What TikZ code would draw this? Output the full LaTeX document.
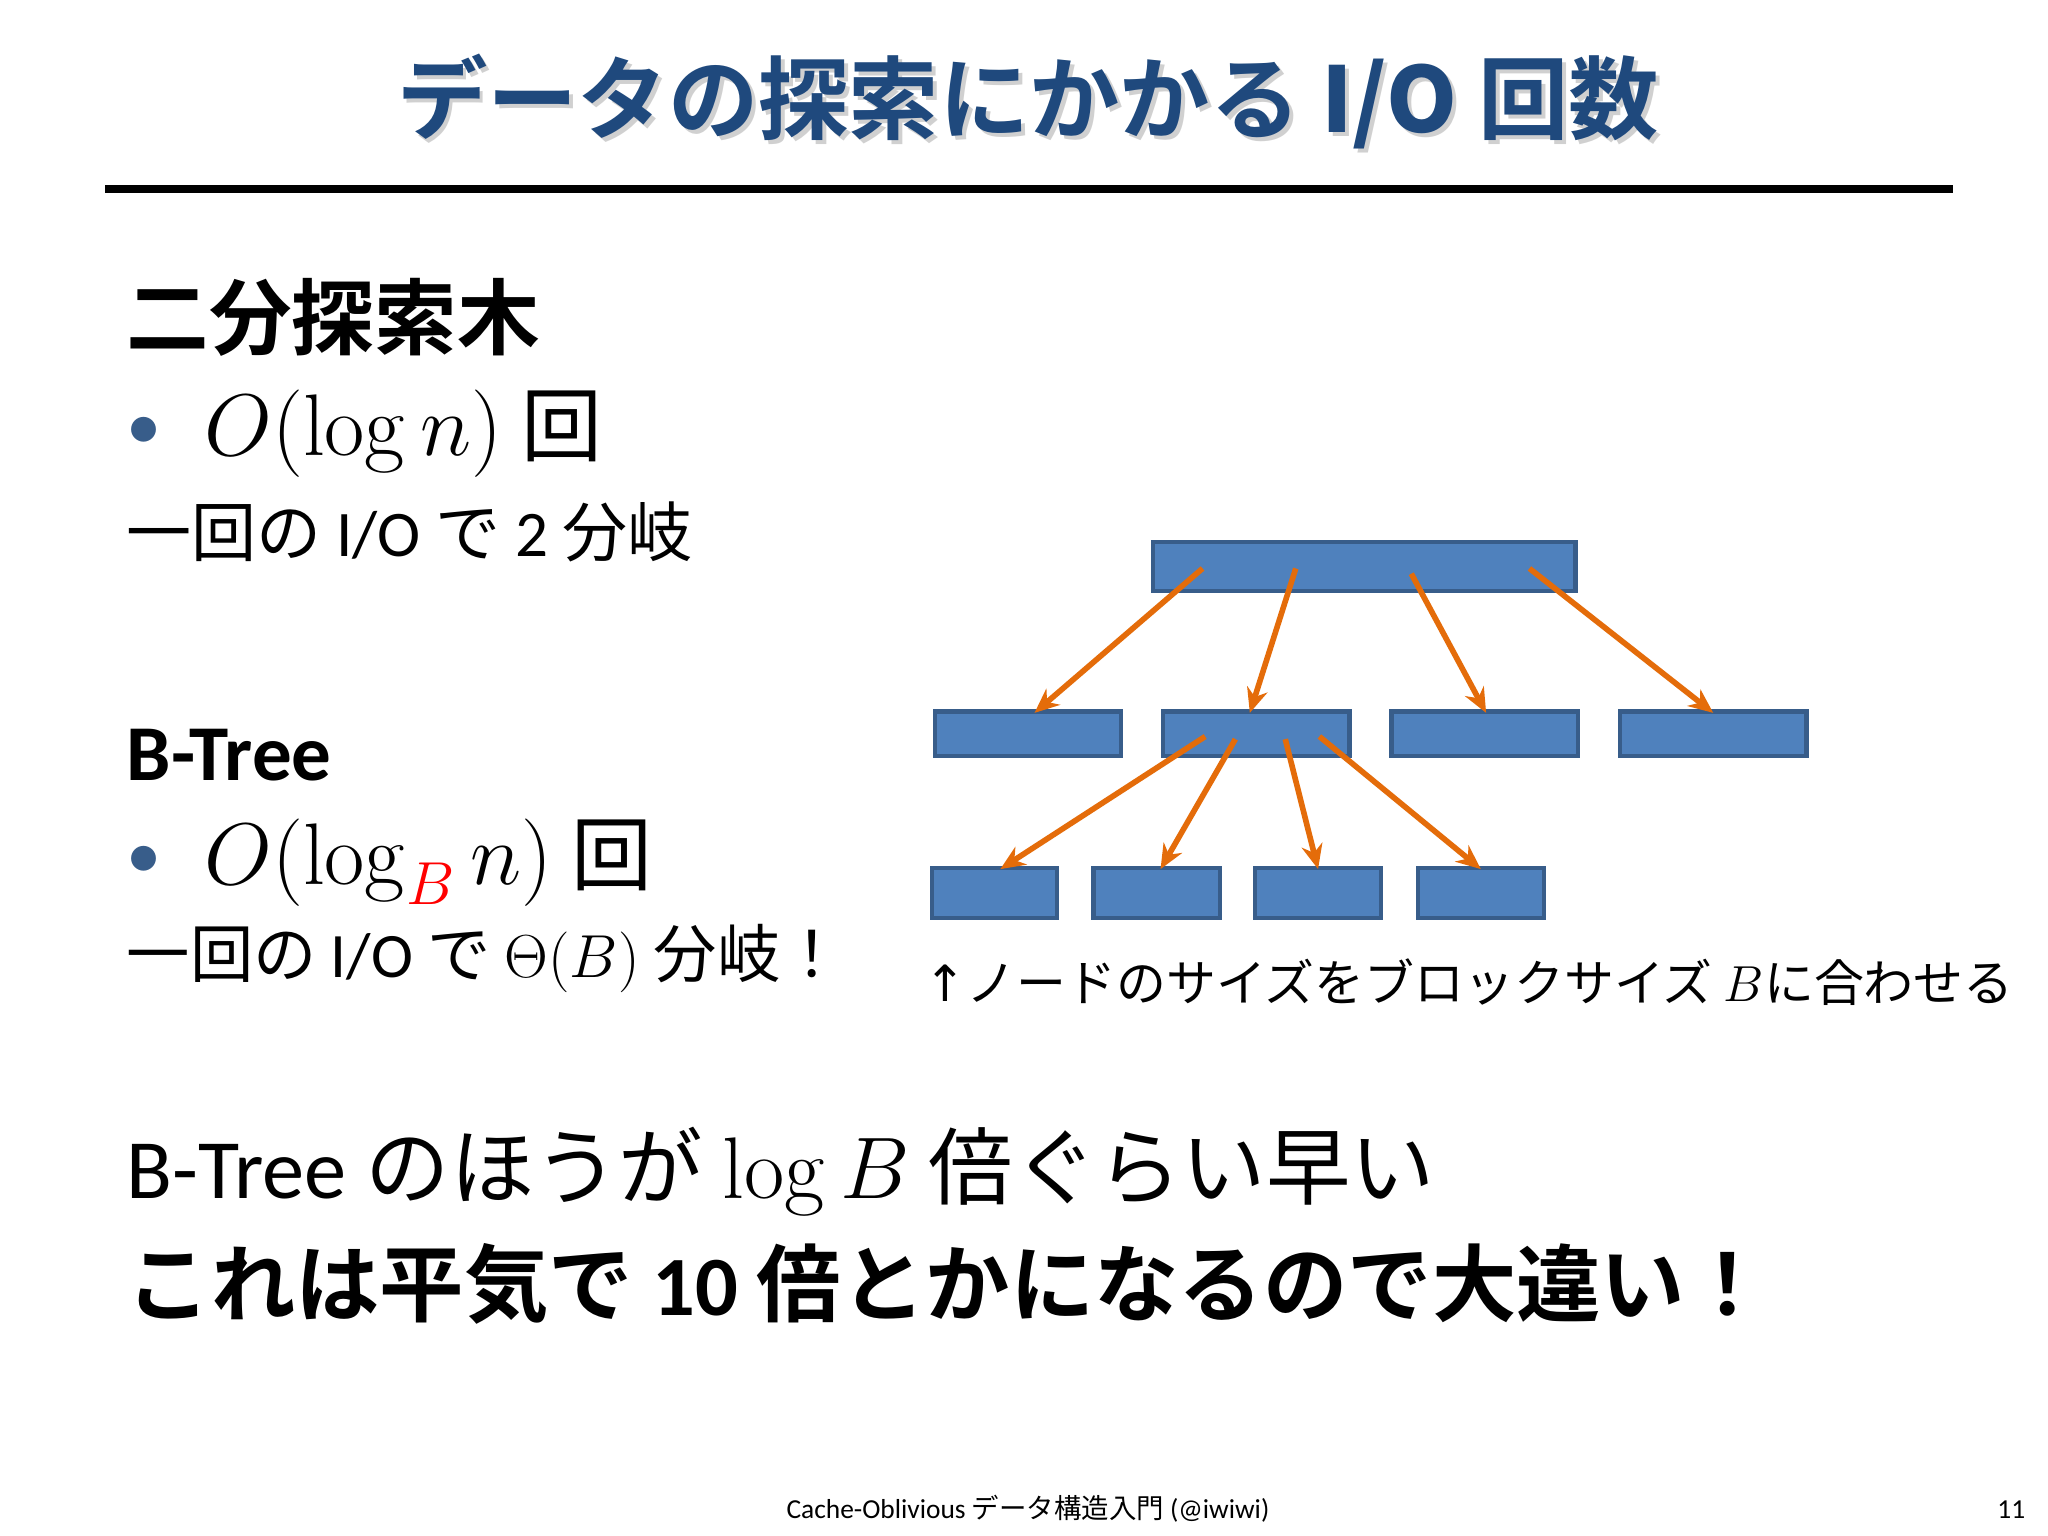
\documentclass[tikz,border=0pt]{standalone}
\usepackage[no-math]{fontspec}
\setmainfont{Carlito}
\newfontfamily\jp{Noto Sans CJK JP}
\newfontfamily\jpb{Noto Sans CJK JP Bold}
\newfontfamily\arr{DejaVu Sans}
\usetikzlibrary{arrows.meta}
\definecolor{bfill}{HTML}{4F81BD}
\definecolor{bdraw}{HTML}{385D8A}
\definecolor{ora}{HTML}{E46C0A}
\definecolor{ttl}{HTML}{1F497D}
\begin{document}
\begin{tikzpicture}[x=0.013128cm,y=-0.013128cm,
  blk/.style={draw=bdraw,fill=bfill,line width=1.2pt},
  ar/.style={draw=ora,line width=1.6pt,-{Stealth[length=7pt,width=6pt]}},
  txt/.style={anchor=west,inner sep=0pt}]
\useasboundingbox (0,0) rectangle (1560,1170);
\fill[white] (0,0) rectangle (1560,1170);
% title
\node[txt,anchor=center,text=gray!60,opacity=0.6] at (786,80) {\jpb\fontsize{25.7}{30}\selectfont データの探索にかかる \textbf{I/O} 回数};
\node[txt,anchor=center,text=ttl] (title) at (783,77) {\jpb\fontsize{25.7}{30}\selectfont データの探索にかかる \textbf{I/O} 回数};
\draw[line width=2.2pt] (80,144) -- (1488,144);
% left text
\node[txt] (h1) at (96,242) {\jpb\fontsize{23.5}{28}\selectfont 二分探索木};
\node[txt,text=bdraw] (b1) at (96,330) {\fontsize{20}{24}\selectfont •};
\node[txt] (m1) at (155,330) {\fontsize{23}{28}\selectfont $O(\log n)$ \jp 回};
\node[txt] (t1) at (96,405) {\jp\fontsize{18.5}{22}\selectfont 一回の {\fontspec{Carlito}I/O} で {\fontspec{Carlito}2} 分岐};
\node[txt] (h2) at (96,575) {\fontsize{22.5}{26}\selectfont\bfseries B-Tree};
\node[txt,text=bdraw] (b2) at (96,657) {\fontsize{20}{24}\selectfont •};
\node[txt] (m2) at (155,657) {\fontsize{23}{28}\selectfont $O(\log_{\textcolor{red}{B}} n)$ \jp 回};
\node[txt] (t2) at (96,730) {\jp\fontsize{18}{22}\selectfont 一回の {\fontspec{Carlito}I/O} で $\Theta(B)$ 分岐！};
% caption
\node[txt] (cap) at (704,748) {\jp\fontsize{14.2}{17}\selectfont {\arr ↑}ノードのサイズをブロックサイズ $B$に合わせる};
% bottom
\node[txt] (l1) at (96,892) {\fontsize{24}{28}\selectfont B-Tree {\jp のほうが} $\log B$ {\jp 倍ぐらい早い}};
\node[txt] (l2) at (96,978) {\jpb\fontsize{24}{28}\selectfont これは平気で {\fontspec{Carlito}\bfseries 10} 倍とかになるので大違い！};
\node[txt,anchor=center] (foot) at (783,1149) {\fontsize{7.8}{9}\selectfont Cache-Oblivious {\jp データ構造入門} (@iwiwi)};
\node[txt,anchor=center] (pg) at (1532,1150) {\fontsize{7.8}{9}\selectfont 11};
% tree
\draw[blk] (878,413) rectangle (1200,450);
\draw[blk] (712,542) rectangle (854,576);
\draw[blk] (886,542) rectangle (1028,576);
\draw[blk] (1060,542) rectangle (1202,576);
\draw[blk] (1234,542) rectangle (1376,576);
\draw[blk] (710,661) rectangle (805,699);
\draw[blk] (833,661) rectangle (929,699);
\draw[blk] (956,661) rectangle (1052,699);
\draw[blk] (1080,661) rectangle (1176,699);
\foreach \i/\a/\b/\c/\d in {1/916/433/788/543,2/987/433/952/543,3/1075/437/1132/543,4/1165/433/1305/543,5/918/561/762/662,6/941/563/884/662,7/979/563/1004/662,8/1005/561/1128/662}{
  \coordinate (s\i) at (\a,\b); \coordinate (e\i) at (\c,\d);
  \draw[ar] (s\i) -- (e\i);}
\end{tikzpicture}
\end{document}
